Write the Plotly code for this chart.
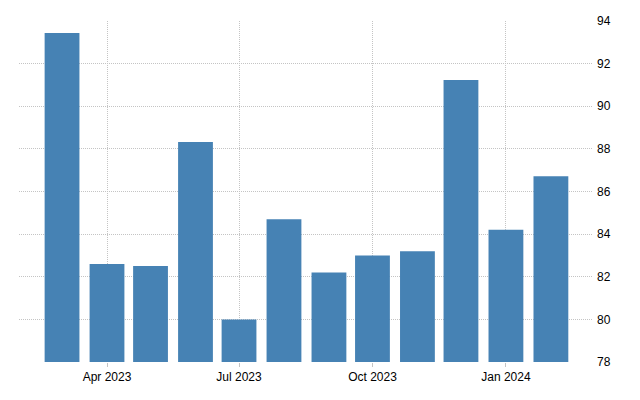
import plotly.graph_objects as go

months = ["2023-03-01", "2023-04-01", "2023-05-01", "2023-06-01", "2023-07-01", "2023-08-01",
          "2023-09-01", "2023-10-01", "2023-11-01", "2023-12-01", "2024-01-01", "2024-02-01"]
values = [93.44, 82.6, 82.5, 88.32, 80.0, 84.7, 82.2, 83.0, 83.2, 91.23, 84.2, 86.72]

tick_vals = ["2023-04-01", "2023-07-01", "2023-10-01", "2024-01-01"]
tick_text = ["Apr 2023", "Jul 2023", "Oct 2023", "Jan 2024"]
y_ticks = [78, 80, 82, 84, 86, 88, 90, 92, 94]

DAY = 86400000
fig = go.Figure(go.Bar(
    x=months, y=values,
    marker=dict(color="#4682B4", line=dict(width=0)),
    width=[24 * DAY] * len(months),
))

fig.update_layout(
    width=640, height=400,
    margin=dict(l=19, r=48, t=21, b=38),
    paper_bgcolor="white", plot_bgcolor="white",
    showlegend=False,
    font=dict(family="Arial, Liberation Sans", size=12, color="#000"),
    xaxis=dict(
        type="date",
        range=["2023-01-30 08:00", "2024-02-29 08:00"],
        tickvals=tick_vals, ticktext=tick_text,
        showgrid=True, gridcolor="#c4c4c4", griddash="1px,1px", gridwidth=1,
        ticks="outside", ticklen=4, tickcolor="#c4c4c4",
        showline=False, zeroline=False,
    ),
    yaxis=dict(
        side="right",
        range=[78, 94],
        tickvals=y_ticks,
        showgrid=True, gridcolor="#c4c4c4", griddash="1px,1px", gridwidth=1,
        showline=False, zeroline=False,
        ticks="", ticklabelstandoff=4,
    ),
)

fig.write_html("out.html")
